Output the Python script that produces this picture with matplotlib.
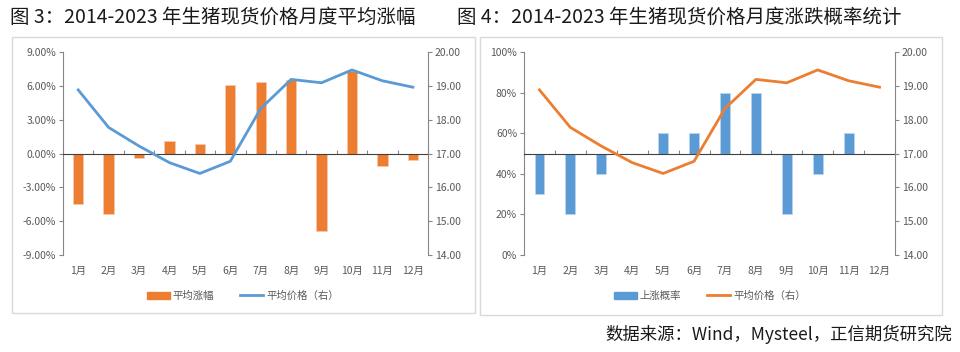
import matplotlib
matplotlib.use("Agg")
import matplotlib.pyplot as plt
from matplotlib.patches import Rectangle, Patch
from matplotlib.lines import Line2D
import numpy as np

plt.rcParams['font.family'] = ['Noto Sans CJK SC', 'DejaVu Sans']

months = ['1月', '2月', '3月', '4月', '5月', '6月', '7月', '8月', '9月', '10月', '11月', '12月']
avg_change = [-4.5, -5.4, -0.4, 1.1, 0.8, 6.1, 6.3, 6.5, -6.9, 7.3, -1.1, -0.6]
avg_price = [18.88, 17.77, 17.22, 16.73, 16.41, 16.77, 18.33, 19.19, 19.09, 19.47, 19.15, 18.96]
up_prob = [30, 20, 40, 50, 60, 60, 80, 80, 20, 40, 60, 50]

title_left = '图 3：2014-2023 年生猪现货价格月度平均涨幅'
title_right = '图 4：2014-2023 年生猪现货价格月度涨跌概率统计'
source = '数据来源：Wind，Mysteel，正信期货研究院'

ORANGE = '#ED7D31'
BLUE = '#5B9BD5'
GRAY = '#595959'
AXC = '#868686'

W, H = 960, 352
fig = plt.figure(figsize=(W / 100, H / 100), dpi=100)


def fr(x0, y0, x1, y1):
    return [x0 / W, (H - y1) / H, (x1 - x0) / W, (y1 - y0) / H]


# panel borders
for (x0, y0, x1, y1) in [(12, 37, 475, 313), (480, 37, 942, 315)]:
    fig.patches.append(Rectangle((x0 / W, (H - y1) / H), (x1 - x0) / W, (y1 - y0) / H,
                                 transform=fig.transFigure, fill=False,
                                 edgecolor='#D9D9D9', linewidth=1))

fig.text(10 / W, 1 - 17 / H, title_left, fontsize=14, fontweight='light', va='center', ha='left', color='#1a1a1a')
fig.text(457 / W, 1 - 17 / H, title_right, fontsize=14, fontweight='light', va='center', ha='left', color='#1a1a1a')
fig.text(952 / W, 1 - 334 / H, source, fontsize=12.5, fontweight='light', va='center', ha='right', color='#1a1a1a')

x = np.arange(len(months))


def style(ax, axr, base):
    for s in ['top', 'right']:
        ax.spines[s].set_visible(False)
    ax.spines['left'].set_color(AXC)
    ax.spines['bottom'].set_position(('data', base))
    ax.spines['bottom'].set_color('#404040')
    ax.set_xlim(-0.5, len(months) - 0.5)
    ax.set_xticks(np.arange(len(months) + 1) - 0.5)
    ax.tick_params(axis='x', direction='in', length=3, color=AXC, labelbottom=False)
    ax.tick_params(axis='y', direction='out', length=3, color=AXC, labelsize=7.5,
                   labelcolor=GRAY, pad=2)
    for s in ['top', 'left', 'bottom']:
        axr.spines[s].set_visible(False)
    axr.spines['right'].set_color(AXC)
    axr.set_ylim(14, 20)
    axr.set_yticks(np.arange(14, 21, 1))
    axr.set_yticklabels([f'{v:.2f}' for v in np.arange(14, 21, 1)])
    axr.tick_params(axis='y', direction='out', length=3, color=AXC, labelsize=7.5,
                    labelcolor=GRAY, pad=2)
    sec = ax.secondary_xaxis('bottom')
    sec.set_xticks(x)
    sec.set_xticklabels(months)
    sec.tick_params(length=0, labelsize=7.5, labelcolor=GRAY, pad=8)
    sec.spines['bottom'].set_visible(False)


# left chart
ax1 = fig.add_axes(fr(63, 52, 428, 255))
ax1.set_ylim(-9, 9)
ax1.set_yticks(np.arange(-9, 10, 3))
ax1.set_yticklabels([f'{v:.2f}%' for v in np.arange(-9, 10, 3)])
ax1.bar(x, avg_change, width=0.34, color=ORANGE, edgecolor='#F8CBAD', linewidth=0.5, zorder=2)
ax1r = ax1.twinx()
ax1r.plot(x, avg_price, color=BLUE, linewidth=2)
style(ax1, ax1r, 0)

# right chart
ax2 = fig.add_axes(fr(524, 52, 895, 255))
ax2.set_ylim(0, 100)
ax2.set_yticks(np.arange(0, 101, 20))
ax2.set_yticklabels([f'{v}%' for v in np.arange(0, 101, 20)])
ax2.bar(x, np.array(up_prob) - 50, bottom=50, width=0.32, color=BLUE, edgecolor='#BDD7EE',
        linewidth=0.5, zorder=2)
ax2r = ax2.twinx()
ax2r.plot(x, avg_price, color=ORANGE, linewidth=2)
style(ax2, ax2r, 50)

# legends
leg_kw = dict(frameon=False, ncol=2, fontsize=7.5, labelcolor=GRAY, handlelength=2.2,
              handletextpad=0.3, columnspacing=2.5, loc='center', bbox_transform=fig.transFigure)
fig.legend([Patch(color=ORANGE), Line2D([], [], color=BLUE, lw=2)],
           ['平均涨幅', '平均价格（右）'], bbox_to_anchor=(243 / W, 1 - 296 / H), **leg_kw)
fig.legend([Patch(color=BLUE), Line2D([], [], color=ORANGE, lw=2)],
           ['上涨概率', '平均价格（右）'], bbox_to_anchor=(710 / W, 1 - 296 / H), **leg_kw)

fig.savefig('out.png', dpi=100)
